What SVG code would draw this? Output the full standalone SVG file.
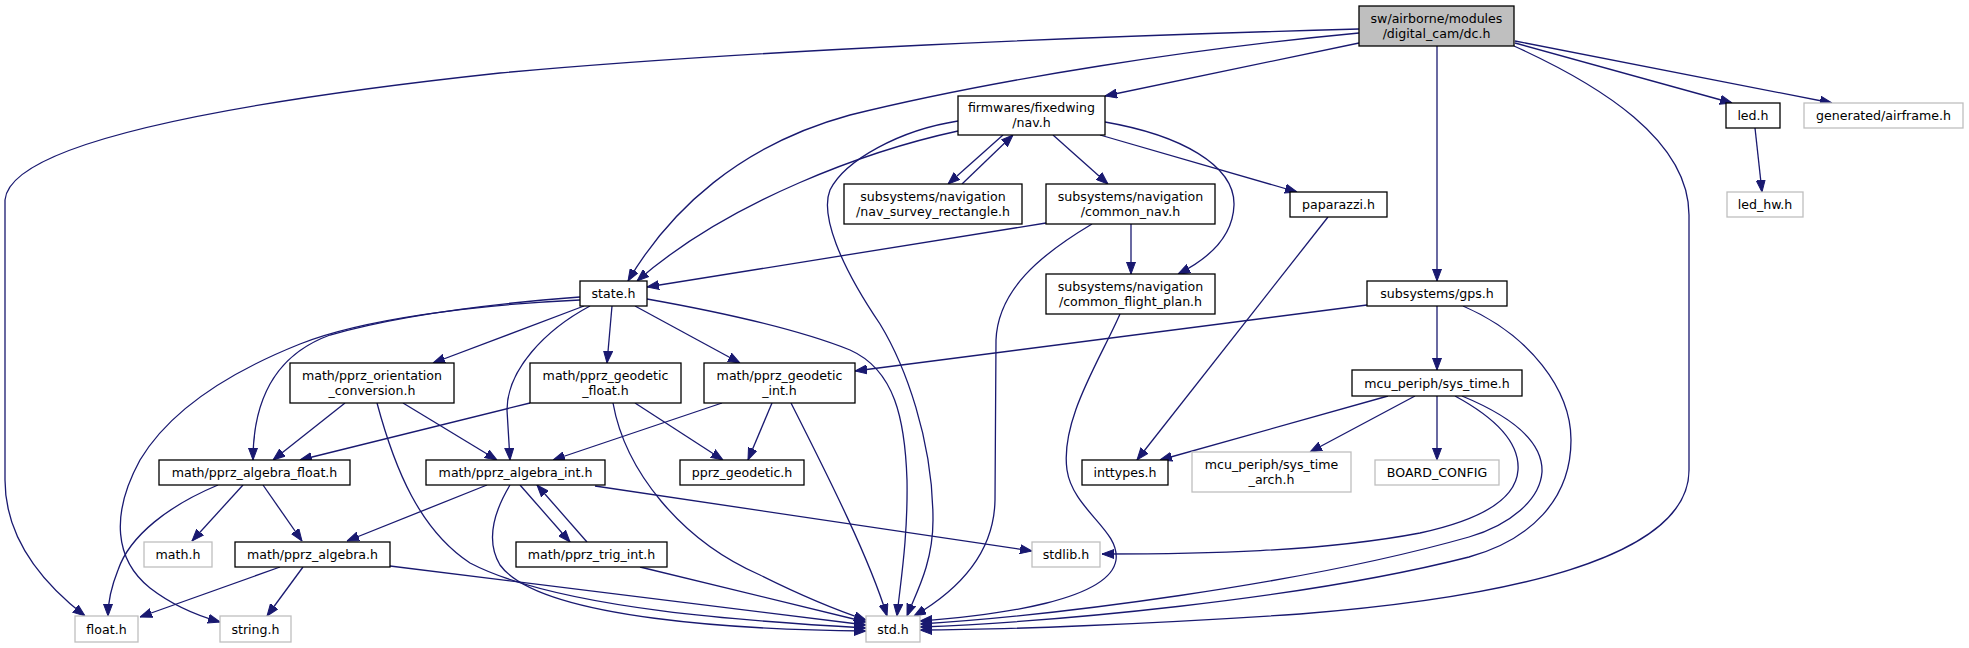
<svg xmlns="http://www.w3.org/2000/svg" width="1969" height="648" viewBox="0 0 1969 648">
<style>
.n rect{fill:#fff;stroke:#000;stroke-width:1.3}
.g rect{fill:#fff;stroke:#bfbfbf;stroke-width:1.3}
.m rect{fill:#bfbfbf;stroke:#000;stroke-width:1.3}
text{font-family:"DejaVu Sans","Liberation Sans",sans-serif;font-size:12.6px;text-anchor:middle;fill:#000}
.e path{fill:none;stroke:#191970;stroke-width:1.3;marker-end:url(#a)}
</style>
<defs>
<marker id="a" viewBox="0 0 12 10" markerWidth="12" markerHeight="10" refX="12" refY="5" orient="auto" markerUnits="userSpaceOnUse">
<path d="M0,0.5 L12,5 L0,9.5 z" fill="#191970" stroke="#191970" stroke-width="1"/>
</marker>
</defs>
<rect width="1969" height="648" fill="#fff"/>
<g class="e" id="edges">
<path d="M1359,29 C1100,36 750,50 500,73 C250,100 10,140 5,200 L5,480 C5,540 45,585 85,616"/>
<path d="M1359,33 C1200,48 1000,78 850,115 C740,145 670,210 628,281"/>
<path d="M1359,43 L1105,96"/>
<path d="M1437,46 L1437,281"/>
<path d="M1515,43 L1732,103"/>
<path d="M1515,41 L1832,103"/>
<path d="M1514,46 C1600,85 1689,140 1689,215 L1689,470 C1689,560 1500,598 1300,614 C1150,624 1000,630 920,630"/>
<path d="M1003,135 L948,184"/>
<path d="M962,184 L1013,135"/>
<path d="M1053,135 L1108,184"/>
<path d="M1100,135 L1297,192"/>
<path d="M1105,122 C1180,135 1235,165 1234,205 C1233,235 1210,258 1178,274"/>
<path d="M958,121 C900,130 845,160 830,190 C820,215 840,265 880,324 C905,365 933,440 933,520 C933,565 915,595 907,616"/>
<path d="M958,131 C870,150 730,200 637,281"/>
<path d="M1131,224 L1131,274"/>
<path d="M1046,223 L647,287"/>
<path d="M1092,224 C1040,255 998,290 996,340 L995,500 C994,560 950,595 914,616"/>
<path d="M1120,314 C1100,360 1060,420 1067,470 C1073,510 1120,530 1116,560 C1110,600 1000,615 920,621"/>
<path d="M1328,217 L1137,460"/>
<path d="M1367,305 L855,371"/>
<path d="M1437,306 L1437,370"/>
<path d="M1463,306 C1530,335 1571,390 1571,440 C1571,500 1530,540 1469,557 C1300,600 1050,622 920,627"/>
<path d="M1388,396 L1160,460"/>
<path d="M1415,396 L1310,452"/>
<path d="M1437,396 L1437,460"/>
<path d="M1455,396 C1490,415 1520,440 1518,470 C1516,500 1480,520 1420,533 C1320,552 1200,554 1102,554"/>
<path d="M1462,396 C1520,420 1543,445 1542,472 C1540,500 1510,525 1469,537 C1300,585 1050,616 920,624"/>
<path d="M584,306 L433,363"/>
<path d="M580,297 C500,303 400,315 330,335 C275,355 253,400 253,460"/>
<path d="M580,300 C470,305 360,320 300,344 C230,372 170,410 140,460 C110,515 115,560 150,588 C172,605 195,615 220,622"/>
<path d="M590,306 C545,330 507,370 507,410 L510,460"/>
<path d="M612,306 L607,363"/>
<path d="M635,306 L740,363"/>
<path d="M647,299 C720,312 800,330 850,350 C895,370 905,420 907,480 C908,540 900,585 897,616"/>
<path d="M345,403 L273,460"/>
<path d="M403,403 L497,460"/>
<path d="M377,403 C395,470 420,530 470,563 C560,610 760,622 866,628"/>
<path d="M530,403 L300,460"/>
<path d="M635,403 L723,460"/>
<path d="M613,403 C625,470 680,540 760,575 C800,595 830,608 866,620"/>
<path d="M722,403 L553,460"/>
<path d="M772,403 L748,460"/>
<path d="M791,403 C830,480 870,560 887,616"/>
<path d="M218,485 C170,505 130,535 118,570 C110,590 108,605 108,616"/>
<path d="M243,485 L192,541"/>
<path d="M263,485 L302,541"/>
<path d="M487,485 L347,541"/>
<path d="M520,485 L570,542"/>
<path d="M587,542 L537,485"/>
<path d="M510,485 C495,510 485,540 500,565 C540,620 750,630 866,631"/>
<path d="M595,486 L1032,551"/>
<path d="M280,567 L140,617"/>
<path d="M303,567 L267,616"/>
<path d="M390,566 L866,625"/>
<path d="M640,567 L866,622"/>
<path d="M1755,128 L1762,192"/>
</g>
<g id="dc" class="m"><rect x="1359" y="6" width="155" height="40"/><text x="1436.5" y="22.5">sw/airborne/modules</text><text x="1436.5" y="37.5">/digital_cam/dc.h</text></g>
<g id="nav" class="n"><rect x="958" y="96" width="147" height="39"/><text x="1031.5" y="112">firmwares/fixedwing</text><text x="1031.5" y="127">/nav.h</text></g>
<g id="survey" class="n"><rect x="844" y="184" width="178" height="40"/><text x="933" y="200.5">subsystems/navigation</text><text x="933" y="215.5">/nav_survey_rectangle.h</text></g>
<g id="common_nav" class="n"><rect x="1046" y="184" width="169" height="40"/><text x="1130.5" y="200.5">subsystems/navigation</text><text x="1130.5" y="215.5">/common_nav.h</text></g>
<g id="cfp" class="n"><rect x="1046" y="274" width="169" height="40"/><text x="1130.5" y="290.5">subsystems/navigation</text><text x="1130.5" y="305.5">/common_flight_plan.h</text></g>
<g id="paparazzi" class="n"><rect x="1290" y="192" width="97" height="25"/><text x="1338.5" y="209">paparazzi.h</text></g>
<g id="gps" class="n"><rect x="1367" y="281" width="140" height="25"/><text x="1437" y="298">subsystems/gps.h</text></g>
<g id="state" class="n"><rect x="580" y="281" width="67" height="25"/><text x="613.5" y="298">state.h</text></g>
<g id="led" class="n"><rect x="1726" y="103" width="54" height="25"/><text x="1753" y="120">led.h</text></g>
<g id="airframe" class="g"><rect x="1804" y="103" width="159" height="25"/><text x="1883.5" y="120">generated/airframe.h</text></g>
<g id="led_hw" class="g"><rect x="1727" y="192" width="76" height="25"/><text x="1765" y="209">led_hw.h</text></g>
<g id="orient" class="n"><rect x="290" y="363" width="164" height="40"/><text x="372" y="379.5">math/pprz_orientation</text><text x="372" y="394.5">_conversion.h</text></g>
<g id="geo_float" class="n"><rect x="530" y="363" width="151" height="40"/><text x="605.5" y="379.5">math/pprz_geodetic</text><text x="605.5" y="394.5">_float.h</text></g>
<g id="geo_int" class="n"><rect x="704" y="363" width="151" height="40"/><text x="779.5" y="379.5">math/pprz_geodetic</text><text x="779.5" y="394.5">_int.h</text></g>
<g id="alg_float" class="n"><rect x="159" y="460" width="191" height="25"/><text x="254.5" y="477">math/pprz_algebra_float.h</text></g>
<g id="alg_int" class="n"><rect x="426" y="460" width="179" height="25"/><text x="515.5" y="477">math/pprz_algebra_int.h</text></g>
<g id="pprz_geodetic" class="n"><rect x="680" y="460" width="124" height="25"/><text x="742" y="477">pprz_geodetic.h</text></g>
<g id="sys_time" class="n"><rect x="1352" y="370" width="170" height="26"/><text x="1437" y="387.5">mcu_periph/sys_time.h</text></g>
<g id="inttypes" class="n"><rect x="1082" y="460" width="86" height="25"/><text x="1125" y="477">inttypes.h</text></g>
<g id="sys_time_arch" class="g"><rect x="1192" y="452" width="159" height="40"/><text x="1271.5" y="468.5">mcu_periph/sys_time</text><text x="1271.5" y="483.5">_arch.h</text></g>
<g id="board" class="g"><rect x="1375" y="460" width="124" height="25"/><text x="1437" y="477">BOARD_CONFIG</text></g>
<g id="math" class="g"><rect x="144" y="542" width="68" height="25"/><text x="178" y="559">math.h</text></g>
<g id="algebra" class="n"><rect x="235" y="542" width="155" height="25"/><text x="312.5" y="559">math/pprz_algebra.h</text></g>
<g id="trig" class="n"><rect x="516" y="542" width="151" height="25"/><text x="591.5" y="559">math/pprz_trig_int.h</text></g>
<g id="stdlib" class="g"><rect x="1032" y="542" width="68" height="25"/><text x="1066" y="559">stdlib.h</text></g>
<g id="float" class="g"><rect x="75" y="616" width="63" height="26"/><text x="106.5" y="633.5">float.h</text></g>
<g id="string" class="g"><rect x="220" y="616" width="71" height="26"/><text x="255.5" y="633.5">string.h</text></g>
<g id="std" class="g"><rect x="866" y="616" width="54" height="26"/><text x="893" y="633.5">std.h</text></g>
</svg>
